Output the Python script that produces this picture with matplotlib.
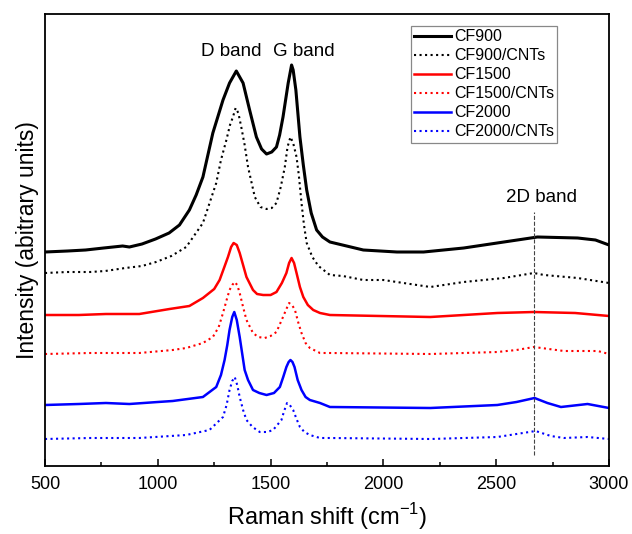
import matplotlib
matplotlib.use("Agg")
import matplotlib.pyplot as plt
from matplotlib.ticker import MultipleLocator

plt.rcParams["font.family"] = ["Liberation Sans", "DejaVu Sans"]
plt.rcParams["mathtext.fontset"] = "custom"
plt.rcParams["mathtext.rm"] = "Liberation Sans"

# Raman spectra (stacked, arbitrary units)
cf900_x = [500, 600, 680, 760, 844, 874, 930, 990, 1050, 1096, 1140, 1170, 1200, 1244,
           1289, 1318, 1348, 1378, 1407, 1437, 1460, 1482, 1505, 1526, 1540, 1555, 1578,
           1593, 1600, 1612, 1630, 1645, 1660, 1680, 1704, 1730, 1763, 1911, 2060, 2178,
           2356, 2534, 2683, 2861, 2940, 3000]
cf900_y = [213, 214, 215, 217, 219, 218, 221, 226, 232, 240, 255, 270, 288, 332,
           365, 382, 394, 382, 355, 328, 316, 311, 313, 318, 330, 348, 382,
           400, 395, 375, 328, 300, 275, 252, 235, 228, 223, 215, 213, 213,
           217, 223, 228, 227, 225, 220]

cf900_cnt_x = [500, 600, 700, 767, 856, 930, 992, 1060, 1126, 1200, 1259, 1280, 1304,
               1320, 1333, 1345, 1357, 1370, 1385, 1400, 1430, 1455, 1482, 1505, 1526,
               1545, 1563, 1575, 1588, 1600, 1615, 1625, 1637, 1648, 1660, 1685, 1712,
               1763, 1820, 1911, 2000, 2208, 2356, 2534, 2667, 2712, 2861, 3000]
cf900_cnt_y = [192, 193, 193, 194, 197, 199, 203, 209, 218, 242, 282, 305, 325,
               340, 348, 357, 352, 338, 320, 298, 268, 258, 256, 257, 262,
               278, 298, 318, 328, 322, 308, 290, 262, 240, 222, 208, 199,
               190, 189, 185, 185, 178, 183, 187, 192, 190, 187, 182]

cf1500_x = [500, 650, 770, 918, 1052, 1140, 1200, 1250, 1274, 1295, 1311, 1325, 1336,
            1350, 1363, 1378, 1393, 1422, 1440, 1467, 1500, 1526, 1550, 1570, 1582,
            1593, 1604, 1615, 1630, 1645, 1665, 1689, 1719, 1763, 2208, 2505, 2667,
            2850, 3000]
cf1500_y = [150, 150, 151, 151, 156, 159, 167, 176, 185, 198, 208, 218, 222,
            220, 212, 200, 188, 175, 171, 170, 170, 173, 182, 192, 202,
            207, 202, 192, 178, 168, 160, 155, 152, 150, 148, 152, 153,
            152, 149]

cf1500_cnt_x = [500, 700, 918, 1066, 1126, 1200, 1244, 1270, 1289, 1305, 1318, 1330,
                1341, 1352, 1363, 1378, 1393, 1422, 1445, 1474, 1500, 1526, 1555, 1570,
                1582, 1595, 1608, 1622, 1637, 1655, 1674, 1719, 1763, 2208, 2505, 2590,
                2667, 2800, 2950, 3000]
cf1500_cnt_y = [111, 112, 112, 115, 117, 122, 128, 138, 152, 165, 175, 180,
                183, 180, 172, 158, 145, 132, 128, 127, 129, 133, 148, 156,
                162, 160, 155, 143, 132, 122, 117, 112, 112, 111, 113, 115,
                118, 114, 114, 111]

cf2000_x = [500, 650, 770, 874, 1000, 1066, 1133, 1200, 1259, 1280, 1296, 1308, 1318,
            1330, 1339, 1350, 1363, 1375, 1385, 1400, 1422, 1450, 1482, 1515, 1541,
            1556, 1570, 1580, 1588, 1597, 1606, 1620, 1637, 1655, 1674, 1719, 1763,
            2208, 2505, 2590, 2670, 2727, 2787, 2905, 3000]
cf2000_y = [60, 61, 62, 61, 63, 64, 66, 68, 78, 90, 105, 120, 135,
            148, 153, 145, 128, 110, 95, 85, 75, 72, 70, 72, 78,
            88, 98, 103, 105, 103, 98, 85, 75, 68, 65, 62, 58,
            57, 60, 63, 67, 62, 58, 61, 57]

cf2000_cnt_x = [500, 700, 918, 1126, 1229, 1289, 1305, 1318, 1330, 1341, 1352, 1363,
                1378, 1393, 1420, 1452, 1485, 1511, 1548, 1560, 1573, 1585, 1600, 1615,
                1630, 1650, 1674, 1719, 1763, 2208, 2505, 2590, 2675, 2742, 2800, 2905,
                3000]
cf2000_cnt_y = [26, 27, 27, 30, 35, 48, 60, 75, 84, 88, 80, 68,
                55, 45, 38, 33, 33, 35, 45, 54, 62, 60, 55, 46,
                38, 33, 30, 27, 27, 26, 28, 31, 34, 29, 27, 28,
                26]

series = [
    ("CF900", cf900_x, cf900_y, "black", "-", 2.2),
    ("CF900/CNTs", cf900_cnt_x, cf900_cnt_y, "black", ":", 1.5),
    ("CF1500", cf1500_x, cf1500_y, "red", "-", 1.8),
    ("CF1500/CNTs", cf1500_cnt_x, cf1500_cnt_y, "red", ":", 1.5),
    ("CF2000", cf2000_x, cf2000_y, "blue", "-", 1.8),
    ("CF2000/CNTs", cf2000_cnt_x, cf2000_cnt_y, "blue", ":", 1.5),
]

band_2d = 2667

fig = plt.figure(figsize=(6.32, 5.34), dpi=100)
ax = fig.add_axes([45 / 632, 1 - 466 / 534, 564 / 632, 452 / 534])

for label, x, y, color, ls, lw in series:
    ax.plot(x, y, color=color, linestyle=ls, linewidth=lw, label=label)

ax.plot([band_2d, band_2d], [10, 253], color="#444444", linestyle="--", linewidth=0.8)

ax.text(1326, 413, "D band", fontsize=13.5, ha="center", va="center")
ax.text(1648, 413, "G band", fontsize=13.5, ha="center", va="center")
ax.text(2702, 267, "2D band", fontsize=13.5, ha="center", va="center")

ax.set_xlim(500, 3000)
ax.set_ylim(-1, 451)
ax.xaxis.set_major_locator(MultipleLocator(500))
ax.xaxis.set_minor_locator(MultipleLocator(250))
ax.tick_params(axis="x", which="major", direction="in", length=5, width=1.1,
               labelsize=13, pad=7)
ax.tick_params(axis="x", which="minor", direction="in", length=3, width=1.1)
ax.set_yticks([])
for s in ax.spines.values():
    s.set_linewidth(1.3)

ax.set_xlabel("Raman shift (cm$^{-1}$)", fontsize=17, labelpad=6)
ax.set_ylabel("Intensity (abitrary units)", fontsize=16.5, labelpad=4)

leg = ax.legend(loc="upper right", bbox_to_anchor=(0.908, 0.973), fontsize=11.5,
                frameon=True, fancybox=False, edgecolor="#888888", framealpha=1,
                handlelength=2.3, handletextpad=0.2, labelspacing=0.25,
                borderpad=0.2, borderaxespad=0)
leg.get_frame().set_linewidth(0.9)

fig.savefig("out.png", dpi=100)
